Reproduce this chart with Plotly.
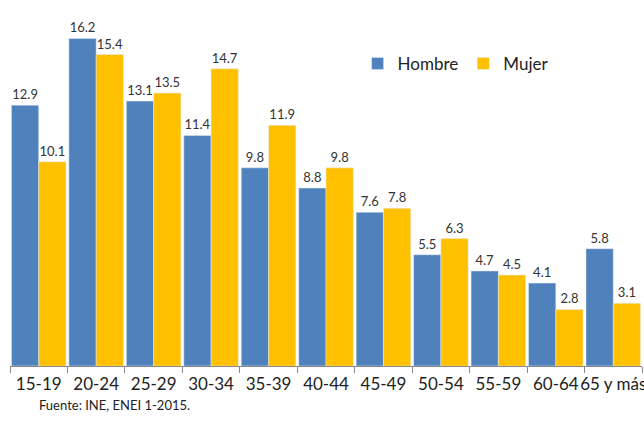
import plotly.graph_objects as go

grupos = ["15-19", "20-24", "25-29", "30-34", "35-39", "40-44", "45-49",
          "50-54", "55-59", "60-64", "65 y más"]
hombre = [12.9, 16.2, 13.1, 11.4, 9.8, 8.8, 7.6, 5.5, 4.7, 4.1, 5.8]
mujer = [10.1, 15.4, 13.5, 14.7, 11.9, 9.8, 7.8, 6.3, 4.5, 2.8, 3.1]

font_family = "Lato, 'Open Sans', 'Liberation Sans', sans-serif"

fig = go.Figure()
fig.add_trace(go.Bar(
    x=grupos, y=hombre, name="Hombre", marker_color="#4F81BD",
    text=[f"{v:.1f}" for v in hombre], textposition="outside",
    textfont=dict(size=13, color="#333333"), cliponaxis=False,
))
fig.add_trace(go.Bar(
    x=grupos, y=mujer, name="Mujer", marker_color="#FFC000",
    text=[f"{v:.1f}" for v in mujer], textposition="outside",
    textfont=dict(size=13, color="#333333"), cliponaxis=False,
))

fig.update_layout(
    width=644, height=430,
    margin=dict(l=10, r=2, t=2, b=64),
    paper_bgcolor="white", plot_bgcolor="white",
    font=dict(family=font_family, color="#222222"),
    barmode="group", bargap=0.05, bargroupgap=0,
    legend=dict(orientation="h", x=0.55, y=0.83, xanchor="left", yanchor="middle",
                font=dict(size=17, color="#222222"), itemwidth=30,
                traceorder="normal"),
    xaxis=dict(showline=True, linecolor="#888888", linewidth=1,
               ticks="outside", ticklen=6, tickcolor="#888888",
               tickson="boundaries", tickangle=0, ticklabelstandoff=3,
               tickfont=dict(size=17, color="#222222"),
               automargin=False),
    yaxis=dict(range=[0, 18], visible=False, showgrid=False, automargin=False),
    annotations=[dict(text="Fuente: INE, ENEI 1-2015.",
                      x=(37 - 10) / 632, y=-(405 - 366) / 364,
                      xref="paper", yref="paper", showarrow=False,
                      xanchor="left", yanchor="middle",
                      font=dict(size=13, color="#222222"))],
)

fig.write_html("out.html", config={"displayModeBar": False},
               post_script="document.body.style.margin='0';")
